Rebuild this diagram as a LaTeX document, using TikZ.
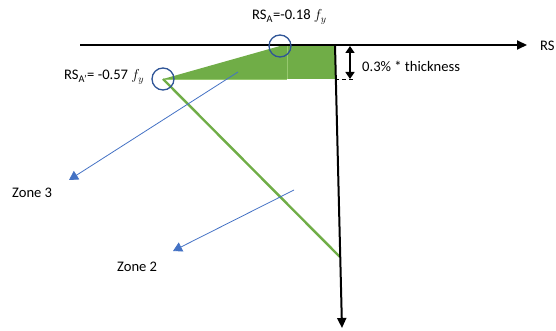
\documentclass[tikz,border=0pt]{standalone}
\usepackage{fontspec}
\setmainfont{Carlito}
\usetikzlibrary{arrows.meta}
\definecolor{offgreen}{RGB}{112,173,71}
\definecolor{seamgreen}{RGB}{150,200,110}
\definecolor{arrowblue}{RGB}{68,114,196}
\definecolor{circblue}{RGB}{47,85,151}
\tikzset{
  lbl/.style={font=\fontsize{14.6}{16}\selectfont, inner sep=0pt},
  axis/.style={line width=2pt, -{Triangle[length=10pt,width=9pt]}},
  zonearrow/.style={arrowblue, line width=0.8pt, -{Triangle[length=9pt,width=10pt]}},
  marker/.style={circle, draw=circblue, line width=1.3pt, minimum size=22pt, inner sep=0pt},
}
\begin{document}
\begin{tikzpicture}[x=1pt,y=-1pt]
\useasboundingbox (0,0) rectangle (556,331);
% key coordinates
\coordinate (hstart) at (80,45);
\coordinate (hend) at (527,45);
\coordinate (vstart) at (335,45);
\coordinate (vend) at (342,328);
\coordinate (Aprime) at (163,79);
\coordinate (A) at (280,46);
\coordinate (seamtop) at (287,46);
\coordinate (seambot) at (287,79);
\coordinate (corner) at (335,79);
\coordinate (gend) at (340,257);
% green region
\fill[offgreen] (Aprime) -- (A) -- (vstart) -- (corner) -- cycle;
\draw[seamgreen, line width=0.6pt] (seamtop) -- (seambot);
\draw[seamgreen, line width=0.8pt] (Aprime) -- (seambot);
% green line
\draw[offgreen, line width=2.4pt] (Aprime) -- (gend);
% axes
\draw[axis] (hstart) -- (hend);
\draw[axis] (vstart) -- (vend);
\node[lbl, anchor=west] (rs) at (540,46) {RS};
% thickness marker
\coordinate (dtop) at (350,46);
\coordinate (dbot) at (350,79);
\draw[line width=1.6pt, {Triangle[length=7pt,width=9pt]}-{Triangle[length=7pt,width=9pt]}] (dtop) -- (dbot);
\coordinate (dashend) at (353,79);
\draw[line width=0.6pt, dash pattern=on 4pt off 3pt] (corner) -- (dashend);
\node[lbl, anchor=west] (thick) at (362,66) {0.3\% * thickness};
% circles
\node[marker] (cA) at (A) {};
\node[marker] (cAp) at (Aprime) {};
% labels
\node[lbl, anchor=west] (lA) at (252,17) {RS\textsubscript{A}=-0.18 $f_y$};
\node[lbl, anchor=west] (lAp) at (64,77) {RS\textsubscript{A'}= -0.57 $f_y$};
% zone arrows
\coordinate (z3s) at (238,72);
\coordinate (z3e) at (69,180);
\coordinate (z2s) at (294,190);
\coordinate (z2e) at (173,251);
\draw[zonearrow] (z3s) -- (z3e);
\draw[zonearrow] (z2s) -- (z2e);
\node[lbl, anchor=west] (zone3) at (12,193) {Zone 3};
\node[lbl, anchor=west] (zone2) at (117,267) {Zone 2};
\end{tikzpicture}
\end{document}
